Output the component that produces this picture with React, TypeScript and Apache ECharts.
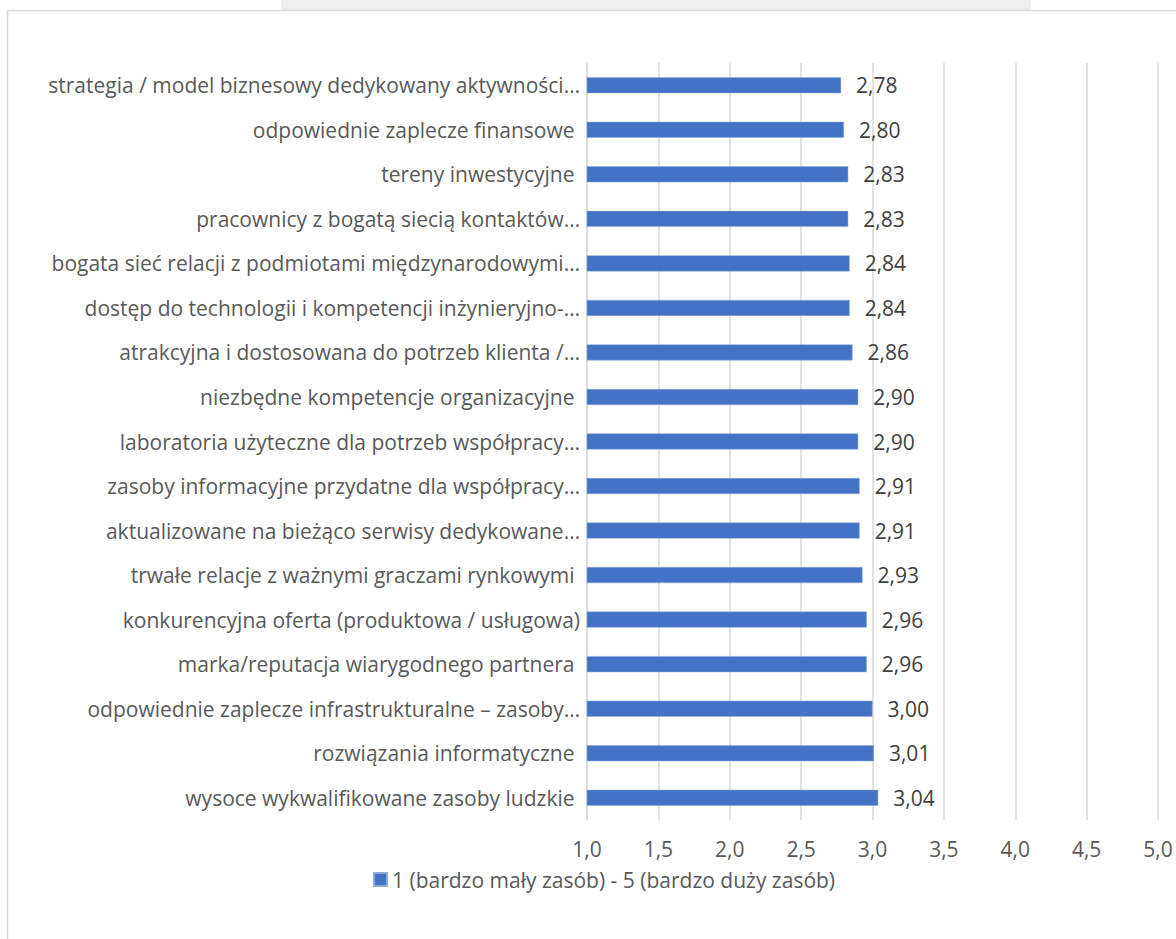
import React, { useEffect, useRef } from "react";
import * as echarts from "echarts";

const categories: string[] = [
  "strategia / model biznesowy dedykowany aktywności…",
  "odpowiednie zaplecze finansowe ",
  "tereny inwestycyjne ",
  "pracownicy z bogatą siecią kontaktów…",
  "bogata sieć relacji z podmiotami międzynarodowymi…",
  "dostęp do technologii i kompetencji inżynieryjno-…",
  "atrakcyjna i dostosowana do potrzeb klienta /…",
  "niezbędne kompetencje organizacyjne ",
  "laboratoria użyteczne dla potrzeb współpracy…",
  "zasoby informacyjne przydatne dla współpracy…",
  "aktualizowane na bieżąco serwisy dedykowane…",
  "trwałe relacje z ważnymi graczami rynkowymi ",
  "konkurencyjna oferta (produktowa / usługowa)",
  "marka/reputacja wiarygodnego partnera ",
  "odpowiednie zaplecze infrastrukturalne – zasoby…",
  "rozwiązania informatyczne ",
  "wysoce wykwalifikowane zasoby ludzkie ",
];

const values: number[] = [
  2.78, 2.8, 2.83, 2.83, 2.84, 2.84, 2.86, 2.9, 2.9, 2.91, 2.91, 2.93, 2.96,
  2.96, 3.0, 3.01, 3.04,
];

const seriesName = "1 (bardzo mały zasób) - 5 (bardzo duży zasób)";

const FONT = "'Open Sans', sans-serif";
const FS = 21;

export default function App() {
  const ref = useRef<HTMLDivElement>(null);
  useEffect(() => {
    if (!ref.current) return;
    const chart = echarts.init(ref.current, undefined, { renderer: "svg" });
    const fmt = (v: number) => v.toFixed(1).replace(".", ",");
    chart.setOption({
      animation: false,
      backgroundColor: "#ffffff",
      textStyle: { fontFamily: FONT },
      graphic: [
        {
          type: "rect",
          shape: { x: 281, y: 0, width: 750, height: 10 },
          style: { fill: "#efefef" },
          silent: true,
          z: -10,
        },
        {
          type: "rect",
          shape: { x: 7.5, y: 10.5, width: 1300, height: 1100 },
          style: { fill: "none", stroke: "#d9d9d9", lineWidth: 1.5 },
          silent: true,
          z: -5,
        },
      ],
      grid: {
        left: 587,
        right: 18,
        top: 63,
        bottom: 119,
        containLabel: false,
      },
      legend: {
        bottom: 44,
        left: 368,
        itemWidth: 13,
        itemHeight: 13,
        itemGap: 6,
        icon: "rect",
        textStyle: { color: "#595959", fontSize: FS, fontFamily: FONT },
        data: [seriesName],
      },
      xAxis: {
        type: "value",
        min: 1,
        max: 5,
        interval: 0.5,
        axisLine: { show: false },
        axisTick: { show: false },
        splitLine: { show: true, lineStyle: { color: "#d9d9d9", width: 1.5 } },
        axisLabel: {
          formatter: (v: number) => fmt(v),
          color: "#595959",
          fontSize: FS,
          fontFamily: FONT,
          margin: 18,
        },
      },
      yAxis: {
        type: "category",
        inverse: true,
        data: categories,
        axisLine: { show: true, lineStyle: { color: "#d9d9d9", width: 1.5 } },
        axisTick: { show: false },
        axisLabel: {
          color: "#595959",
          fontSize: FS,
          fontFamily: FONT,
          margin: 7,
        },
      },
      series: [
        {
          name: seriesName,
          type: "bar",
          data: values,
          barWidth: 16,
          itemStyle: {
            color: "#4472c4",
            borderColor: "#8eaadb",
            borderWidth: 0.5,
          },
          label: {
            show: true,
            position: "right",
            distance: 15,
            color: "#404040",
            fontSize: FS,
            fontFamily: FONT,
            formatter: (p: any) => p.value.toFixed(2).replace(".", ","),
          },
        },
      ],
    });
    return () => chart.dispose();
  }, []);
  return (
    <div
      ref={ref}
      style={{ position: "fixed", left: 0, top: 0, width: 1176, height: 939 }}
    />
  );
}
